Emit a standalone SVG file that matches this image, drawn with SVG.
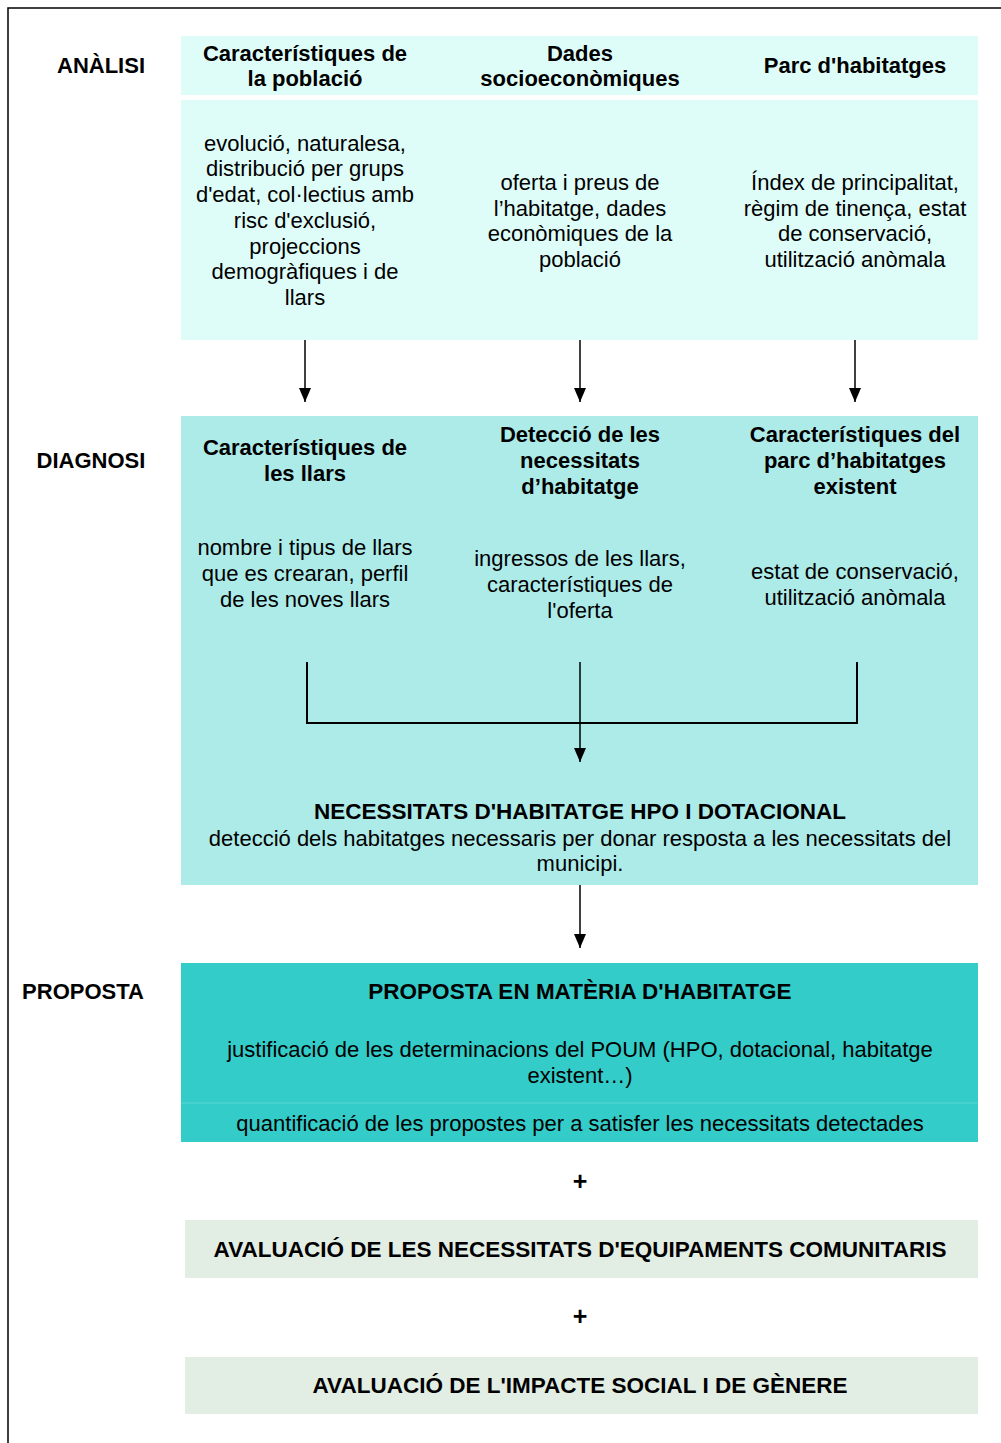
<svg xmlns="http://www.w3.org/2000/svg" width="1001" height="1443" viewBox="0 0 1001 1443">
<style>
text{font-family:"Liberation Sans",Arial,sans-serif;font-size:22px;fill:#000;text-anchor:middle}
.b{font-weight:bold}
.bw{font-weight:bold;font-size:22.5px}
.lab{font-weight:bold}
.ln{stroke:#000;stroke-width:2;fill:none}
.ar{stroke:#000;stroke-width:1.5;fill:none}
</style>
<defs>
<marker id="ah" markerWidth="14" markerHeight="12" refX="14" refY="6" orient="auto" markerUnits="userSpaceOnUse" viewBox="0 0 14 12">
<path d="M0,0 L14,6 L0,12 Z" fill="#000"/>
</marker>
</defs>
<rect x="0" y="0" width="1001" height="1443" fill="#fff"/>
<path d="M8,1443 V8 H1001" fill="none" stroke="#000" stroke-width="1.5"/>

<g id="labels">
<text class="lab" x="101" y="73">ANÀLISI</text>
<text class="lab" x="91" y="468">DIAGNOSI</text>
<text class="lab" x="83" y="999">PROPOSTA</text>
</g>

<g id="analisi">
<rect x="181" y="36" width="797" height="59" fill="#DFFDF8"/>
<rect x="181" y="100" width="797" height="240" fill="#DFFDF8"/>
</g>
<g id="node-poblacio">
<text class="b" x="305" y="61">Característiques de</text>
<text class="b" x="305" y="86">la població</text>
<text x="305" y="151">evolució, naturalesa,</text>
<text x="305" y="176">distribució per grups</text>
<text x="305" y="202">d'edat, col·lectius amb</text>
<text x="305" y="228">risc d'exclusió,</text>
<text x="305" y="254">projeccions</text>
<text x="305" y="279">demogràfiques i de</text>
<text x="305" y="305">llars</text>
</g>
<g id="node-socio">
<text class="b" x="580" y="61">Dades</text>
<text class="b" x="580" y="86">socioeconòmiques</text>
<text x="580" y="190">oferta i preus de</text>
<text x="580" y="216">l’habitatge, dades</text>
<text x="580" y="241">econòmiques de la</text>
<text x="580" y="267">població</text>
</g>
<g id="node-parc">
<text class="b" x="855" y="73">Parc d'habitatges</text>
<text x="855" y="190">Índex de principalitat,</text>
<text x="855" y="216">règim de tinença, estat</text>
<text x="855" y="241">de conservació,</text>
<text x="855" y="267">utilització anòmala</text>
</g>

<g id="diagnosi">
<rect x="181" y="416" width="797" height="469" fill="#ADEBE9"/>
</g>
<g id="node-llars">
<text class="b" x="305" y="455">Característiques de</text>
<text class="b" x="305" y="481">les llars</text>
<text x="305" y="555">nombre i tipus de llars</text>
<text x="305" y="581">que es crearan, perfil</text>
<text x="305" y="607">de les noves llars</text>
</g>
<g id="node-deteccio">
<text class="b" x="580" y="442">Detecció de les</text>
<text class="b" x="580" y="468">necessitats</text>
<text class="b" x="580" y="494">d’habitatge</text>
<text x="580" y="566">ingressos de les llars,</text>
<text x="580" y="592">característiques de</text>
<text x="580" y="618">l'oferta</text>
</g>
<g id="node-parc-existent">
<text class="b" x="855" y="442">Característiques del</text>
<text class="b" x="855" y="468">parc d’habitatges</text>
<text class="b" x="855" y="494">existent</text>
<text x="855" y="579">estat de conservació,</text>
<text x="855" y="605">utilització anòmala</text>
</g>
<g id="node-necessitats">
<text class="bw" x="580" y="819">NECESSITATS D'HABITATGE HPO I DOTACIONAL</text>
<text x="580" y="846">detecció dels habitatges necessaris per donar resposta a les necessitats del</text>
<text x="580" y="871">municipi.</text>
</g>

<g id="node-proposta">
<rect x="181" y="963" width="797" height="179" fill="#33CCC9"/>
<line x1="181" y1="1103" x2="978" y2="1103" stroke="#5CD6D3" stroke-width="1"/>
<text class="bw" x="580" y="999">PROPOSTA EN MATÈRIA D'HABITATGE</text>
<text x="580" y="1057">justificació de les determinacions del POUM (HPO, dotacional, habitatge</text>
<text x="580" y="1083">existent…)</text>
<text x="580" y="1131">quantificació de les propostes per a satisfer les necessitats detectades</text>
</g>
<g id="plus">
<text class="b" x="580" y="1190" style="font-size:25px">+</text>
<text class="b" x="580" y="1325" style="font-size:25px">+</text>
</g>
<g id="node-equipaments">
<rect x="185" y="1220" width="793" height="58" fill="#E2EDE4"/>
<text class="bw" x="580" y="1257">AVALUACIÓ DE LES NECESSITATS D'EQUIPAMENTS COMUNITARIS</text>
</g>
<g id="node-impacte">
<rect x="185" y="1357" width="793" height="57" fill="#E2EDE4"/>
<text class="bw" x="580" y="1393">AVALUACIÓ DE L'IMPACTE SOCIAL I DE GÈNERE</text>
</g>

<g id="connectors">
<line class="ar" x1="305" y1="340" x2="305" y2="402" marker-end="url(#ah)"/>
<line class="ar" x1="580" y1="340" x2="580" y2="402" marker-end="url(#ah)"/>
<line class="ar" x1="855" y1="340" x2="855" y2="402" marker-end="url(#ah)"/>
<path class="ln" d="M307,662 V723 H857 V662"/>
<line class="ar" x1="580" y1="662" x2="580" y2="762" marker-end="url(#ah)"/>
<line class="ar" x1="580" y1="885" x2="580" y2="948" marker-end="url(#ah)"/>
</g>
</svg>
